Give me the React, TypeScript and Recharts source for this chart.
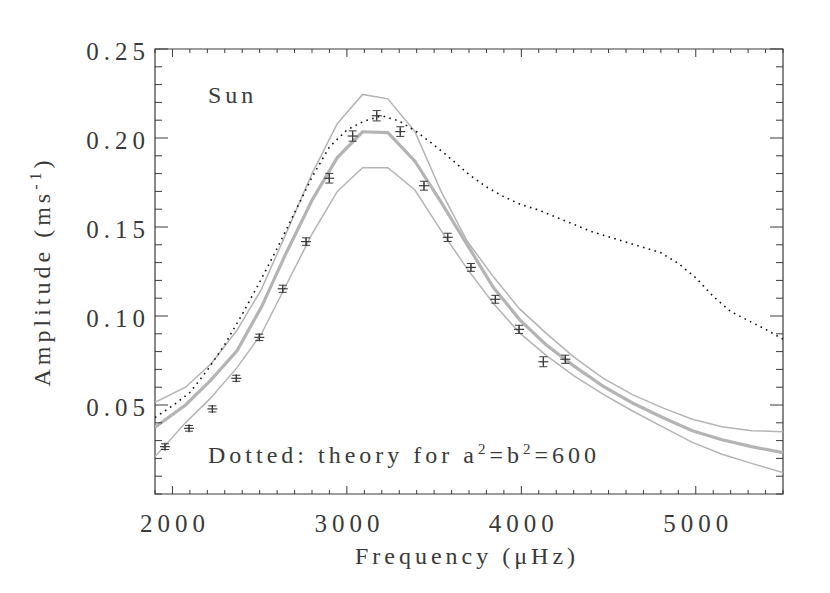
import React from 'react';
import {
  ComposedChart,
  Line,
  Scatter,
  ErrorBar,
  XAxis,
  YAxis,
  ReferenceArea,
  ReferenceDot,
  Label,
} from 'recharts';

// ---- data ----

// observed amplitudes (with 1-sigma errors)
const obsFreq = [1957, 2095, 2229, 2366, 2498, 2632, 2766, 2899, 3033, 3171, 3306, 3442, 3578, 3711, 3851, 3987, 4126, 4252];
const obsAmp = [0.0266, 0.0369, 0.0478, 0.065, 0.088, 0.1153, 0.1418, 0.1774, 0.2011, 0.2125, 0.2036, 0.1732, 0.1442, 0.1273, 0.1094, 0.0925, 0.0743, 0.0757];
const obsErr = [0.0016, 0.0016, 0.0017, 0.0017, 0.0018, 0.002, 0.0021, 0.0027, 0.0029, 0.0029, 0.0027, 0.0025, 0.0023, 0.0022, 0.0022, 0.0023, 0.0028, 0.0023];

// model: mean and +/- envelope (grey)
const modelFreq = [1900, 2075, 2220, 2370, 2510, 2650, 2800, 2945, 3090, 3235, 3390, 3540, 3690, 3840, 3990, 4140, 4300, 4470, 4640, 4810, 4980, 5150, 5320, 5500];
const modelUpper = [0.0515, 0.06, 0.073, 0.092, 0.115, 0.146, 0.18, 0.208, 0.2245, 0.222, 0.2036, 0.17, 0.142, 0.122, 0.104, 0.0905, 0.077, 0.065, 0.0557, 0.0484, 0.042, 0.0378, 0.0356, 0.035];
const modelMid = [0.0375, 0.05, 0.064, 0.0805, 0.105, 0.135, 0.165, 0.189, 0.2035, 0.203, 0.187, 0.164, 0.14, 0.116, 0.098, 0.084, 0.072, 0.0605, 0.051, 0.043, 0.0355, 0.0305, 0.0266, 0.0232];
const modelLower = [0.021, 0.04, 0.054, 0.071, 0.09, 0.117, 0.146, 0.17, 0.1833, 0.1833, 0.1708, 0.148, 0.1265, 0.107, 0.0905, 0.078, 0.0665, 0.056, 0.0465, 0.0377, 0.029, 0.0223, 0.0172, 0.012];

// theory, a^2=b^2=600 (dotted)
const theoryFreq = [1900, 2000, 2100, 2200, 2300, 2400, 2500, 2600, 2700, 2800, 2900, 3000, 3100, 3200, 3300, 3400, 3500, 3600, 3700, 3800, 3900, 4000, 4100, 4200, 4300, 4400, 4500, 4600, 4700, 4800, 4900, 5000, 5100, 5200, 5300, 5400, 5500];
const theoryAmp = [0.043, 0.0495, 0.057, 0.0695, 0.084, 0.101, 0.119, 0.138, 0.158, 0.178, 0.195, 0.2045, 0.2095, 0.2125, 0.2095, 0.2035, 0.196, 0.188, 0.1795, 0.1725, 0.167, 0.1625, 0.1595, 0.1555, 0.1515, 0.1475, 0.1445, 0.1415, 0.1385, 0.1355, 0.1295, 0.1215, 0.111, 0.1025, 0.0975, 0.0925, 0.087];

// ticks
const freqTicks = [1900, 2000, 2100, 2200, 2300, 2400, 2500, 2600, 2700, 2800, 2900, 3000, 3100, 3200, 3300, 3400, 3500, 3600, 3700, 3800, 3900, 4000, 4100, 4200, 4300, 4400, 4500, 4600, 4700, 4800, 4900, 5000, 5100, 5200, 5300, 5400, 5500];
const freqLabels = [2000, 3000, 4000, 5000];
const ampTicks = [0, 0.01, 0.02, 0.03, 0.04, 0.05, 0.06, 0.07, 0.08, 0.09, 0.1, 0.11, 0.12, 0.13, 0.14, 0.15, 0.16, 0.17, 0.18, 0.19, 0.2, 0.21, 0.22, 0.23, 0.24, 0.25];
const ampLabels = [0.05, 0.1, 0.15, 0.2, 0.25];

const obsRows = obsFreq.map((f, i) => ({ f, a: obsAmp[i], err: obsErr[i] }));
const upperRows = modelFreq.map((f, i) => ({ f, a: modelUpper[i] }));
const midRows = modelFreq.map((f, i) => ({ f, a: modelMid[i] }));
const lowerRows = modelFreq.map((f, i) => ({ f, a: modelLower[i] }));
const theoryRows = theoryFreq.map((f, i) => ({ f, a: theoryAmp[i] }));

// ---- styling ----
const W = 830;
const H = 593;
const MARGIN = { top: 49, right: 47, bottom: 0, left: 0 };
const PLOT_W = 628;
const PLOT_H = 445;
const INK = '#3a3a3a';
const GREY = '#b4b4b4';
const FONT = '"Liberation Serif", "Times New Roman", serif';

const textStyle = { fontFamily: FONT, fontSize: 24, letterSpacing: 4, fill: INK } as const;
// the plot font has wide digits
const numStyle = { fontFamily: FONT, fontSize: 25, letterSpacing: 5, fill: INK } as const;

// IDL style: ticks point into the box, on all four sides
const FreqTick = (props: any) => {
  const { x, y, payload } = props;
  const v = payload.value;
  const major = freqLabels.includes(v);
  const len = major ? 8 : 4;
  const top = y - PLOT_H;
  return (
    <g>
      <line x1={x} x2={x} y1={y} y2={y - len} stroke={INK} strokeWidth={1} />
      <line x1={x} x2={x} y1={top} y2={top + len} stroke={INK} strokeWidth={1} />
      {major && (
        <text x={x + 2.5} y={y + 38} textAnchor="middle" style={numStyle}>
          {v}
        </text>
      )}
    </g>
  );
};

const AmpTick = (props: any) => {
  const { x, y, payload } = props;
  const v = payload.value;
  const major = ampLabels.includes(v);
  const len = major ? 13 : 7;
  const right = x + PLOT_W;
  return (
    <g>
      <line x1={x} x2={x + len} y1={y} y2={y} stroke={INK} strokeWidth={1} />
      <line x1={right} x2={right - len} y1={y} y2={y} stroke={INK} strokeWidth={1} />
      {major && (
        <text x={x - 5} y={y + 11} textAnchor="end" style={numStyle}>
          {v.toFixed(2)}
        </text>
      )}
    </g>
  );
};

const PlusMark = (props: any) => {
  const { cx, cy } = props;
  return (
    <g>
      <line x1={cx - 5} x2={cx + 5} y1={cy} y2={cy} stroke={INK} strokeWidth={1.2} />
      <line x1={cx} x2={cx} y1={cy - 4} y2={cy + 4} stroke={INK} strokeWidth={1.2} />
    </g>
  );
};

const XTitle = (props: any) => {
  const { viewBox } = props;
  const cx = viewBox.x + viewBox.width / 2 - 2;
  return (
    <text x={cx} y={viewBox.y + 70} textAnchor="middle" style={textStyle}>
      Frequency (μHz)
    </text>
  );
};

const YTitle = (props: any) => {
  const { viewBox } = props;
  const cx = 50;
  const cy = viewBox.y + viewBox.height / 2;
  return (
    <text x={cx} y={cy} textAnchor="middle" transform={`rotate(-90, ${cx}, ${cy})`} style={textStyle}>
      Amplitude (ms
      <tspan dy={-9} fontSize={16}>-1</tspan>
      <tspan dy={9}>)</tspan>
    </text>
  );
};

const SunNote = (props: any) => {
  const { viewBox } = props;
  return (
    <text x={viewBox.x} y={viewBox.y} style={textStyle}>
      Sun
    </text>
  );
};

const TheoryNote = (props: any) => {
  const { viewBox } = props;
  return (
    <text x={viewBox.x} y={viewBox.y} style={textStyle}>
      Dotted: theory for a<tspan dy={-9} fontSize={15}>2</tspan>
      <tspan dy={9}>=b</tspan>
      <tspan dy={-9} fontSize={15}>2</tspan>
      <tspan dy={9}>=600</tspan>
    </text>
  );
};

export default function App() {
  return (
    <div style={{ position: 'absolute', left: 0, top: 0, width: W, height: H, background: '#fff' }}>
      <ComposedChart width={W} height={H} margin={MARGIN}>
        <XAxis
          type="number"
          dataKey="f"
          domain={[1900, 5500]}
          ticks={freqTicks}
          interval={0}
          allowDataOverflow
          axisLine={false}
          tickLine={false}
          tickSize={0}
          tickMargin={0}
          tick={<FreqTick />}
          height={99}
        >
          <Label content={<XTitle />} />
        </XAxis>
        <YAxis
          type="number"
          dataKey="a"
          domain={[0, 0.25]}
          ticks={ampTicks}
          interval={0}
          allowDataOverflow
          axisLine={false}
          tickLine={false}
          tickSize={0}
          tickMargin={0}
          tick={<AmpTick />}
          width={155}
        >
          <Label content={<YTitle />} />
        </YAxis>

        <Line data={upperRows} dataKey="a" stroke={GREY} strokeWidth={1.5} dot={false} activeDot={false} isAnimationActive={false} />
        <Line data={lowerRows} dataKey="a" stroke={GREY} strokeWidth={1.5} dot={false} activeDot={false} isAnimationActive={false} />
        <Line data={midRows} dataKey="a" stroke={GREY} strokeWidth={3.2} dot={false} activeDot={false} isAnimationActive={false} />
        <Line
          data={theoryRows}
          dataKey="a"
          stroke="#111"
          strokeWidth={1.6}
          strokeDasharray="1.6 4.4"
          dot={false}
          activeDot={false}
          isAnimationActive={false}
        />
        <Scatter data={obsRows} dataKey="a" shape={<PlusMark />} isAnimationActive={false}>
          <ErrorBar dataKey="err" direction="y" width={4} stroke={INK} strokeWidth={1} />
        </Scatter>

        <ReferenceArea x1={1900} x2={5500} y1={0} y2={0.25} fill="none" stroke={INK} strokeWidth={1.2} ifOverflow="visible" />
        <ReferenceDot x={2204} y={0.2197} r={0} fill="none" stroke="none" label={<SunNote />} />
        <ReferenceDot x={2204} y={0.0176} r={0} fill="none" stroke="none" label={<TheoryNote />} />
      </ComposedChart>
    </div>
  );
}
